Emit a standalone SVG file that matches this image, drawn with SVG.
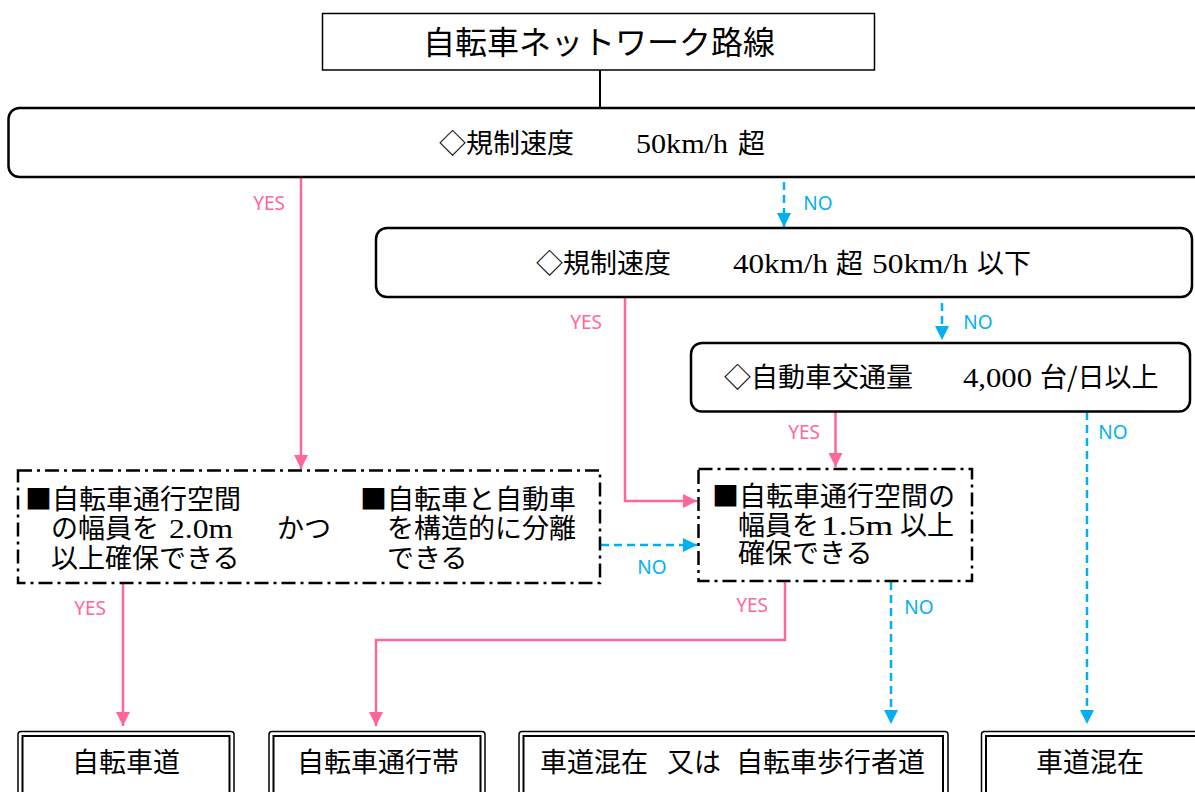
<svg xmlns="http://www.w3.org/2000/svg" width="1195" height="792" viewBox="0 0 1195 792">
<style>
.jp{font-family:"Noto Sans CJK JP","Noto Sans",sans-serif;fill:#000}
.sf{font-family:"Liberation Serif",serif;fill:#000}
.t27{font-size:27px}
.lbl{font-family:"Noto Sans","Liberation Sans",sans-serif;font-size:19px;text-anchor:middle}
.yes{fill:#FF6699}
.no{fill:#00B0F0}
.rbox{fill:#fff;stroke:#000;stroke-width:2.5}
.ddbox{fill:#fff;stroke:#000;stroke-width:2.5;stroke-dasharray:14 5 3 5}
.outer{fill:#fff;stroke:#000;stroke-width:1.5}
.inner{fill:none;stroke:#000;stroke-width:2}
.py{fill:none;stroke:#FF6699;stroke-width:2.5}
.pn{fill:none;stroke:#00B0F0;stroke-width:2.5;stroke-dasharray:8 5}
</style>
<defs>
<marker id="ap" markerUnits="userSpaceOnUse" markerWidth="14" markerHeight="14" viewBox="0 0 14 14" refX="14" refY="7" orient="auto">
<path d="M0,0 L14,7 L0,14 Z" fill="#FF6699"/>
</marker>
<marker id="ab" markerUnits="userSpaceOnUse" markerWidth="14" markerHeight="14" viewBox="0 0 14 14" refX="14" refY="7" orient="auto">
<path d="M0,0 L14,7 L0,14 Z" fill="#00B0F0"/>
</marker>
</defs>
<rect width="1195" height="792" fill="#fff"/>

<g id="connectors">
<line x1="600" y1="70" x2="600" y2="108" stroke="#000" stroke-width="2"/>
<path class="py" d="M301,177 V469" marker-end="url(#ap)"/>
<path class="pn" d="M784,182 V227" marker-end="url(#ab)"/>
<path class="py" d="M625,297 V501 H697" marker-end="url(#ap)"/>
<path class="pn" d="M942,303 V340" marker-end="url(#ab)"/>
<path class="py" d="M835.5,411 V467" marker-end="url(#ap)"/>
<path class="pn" d="M1087,412 V724" marker-end="url(#ab)"/>
<path class="pn" d="M601,545 H697" marker-end="url(#ab)"/>
<path class="py" d="M123,584 V726" marker-end="url(#ap)"/>
<path class="py" d="M785,582 V640 H376 V726" marker-end="url(#ap)"/>
<path class="pn" d="M891,582 V724" marker-end="url(#ab)"/>
<text class="lbl yes" x="269" y="210">YES</text>
<text class="lbl no" x="818" y="210">NO</text>
<text class="lbl yes" x="586" y="329">YES</text>
<text class="lbl no" x="978" y="329">NO</text>
<text class="lbl yes" x="804" y="439">YES</text>
<text class="lbl no" x="1113" y="439">NO</text>
<text class="lbl no" x="652" y="574">NO</text>
<text class="lbl yes" x="90" y="615">YES</text>
<text class="lbl yes" x="752" y="612">YES</text>
<text class="lbl no" x="919" y="614">NO</text>
</g>

<g id="title">
<rect x="322.5" y="13.5" width="552" height="56.5" fill="#fff" stroke="#000" stroke-width="1.5"/>
<text class="jp" x="599" y="54" font-size="32" text-anchor="middle">自転車ネットワーク路線</text>
</g>

<g id="q1">
<rect class="rbox" x="8.5" y="108" width="1200" height="69" rx="11"/>
<text class="jp t27" x="439" y="153">◇規制速度</text>
<text class="sf" x="636" y="153" font-size="28" textLength="92" lengthAdjust="spacingAndGlyphs">50km/h</text>
<text class="jp t27" x="738" y="153">超</text>
</g>

<g id="q2">
<rect class="rbox" x="376" y="228" width="816" height="69" rx="11"/>
<text class="jp t27" x="536" y="273">◇規制速度</text>
<text class="sf" x="733" y="273" font-size="28" textLength="95" lengthAdjust="spacingAndGlyphs">40km/h</text>
<text class="jp t27" x="836" y="273">超</text>
<text class="sf" x="872" y="273" font-size="28" textLength="96" lengthAdjust="spacingAndGlyphs">50km/h</text>
<text class="jp t27" x="977" y="273">以下</text>
</g>

<g id="q3">
<rect class="rbox" x="691" y="343" width="499" height="68.5" rx="11"/>
<text class="jp t27" x="724" y="387">◇自動車交通量</text>
<text class="sf" x="963" y="387" font-size="28" textLength="69" lengthAdjust="spacingAndGlyphs">4,000</text>
<text class="jp t27" x="1040" y="387">台/日以上</text>
</g>

<g id="c1">
<rect class="ddbox" x="18" y="470.5" width="582" height="112.5"/>
<text class="jp t27" x="25" y="509">■自転車通行空間</text>
<text class="jp t27" x="51" y="538">の幅員を</text>
<text class="sf" x="169" y="538" font-size="28" textLength="64" lengthAdjust="spacingAndGlyphs">2.0m</text>
<text class="jp t27" x="51" y="568">以上確保できる</text>
<text class="jp t27" x="277" y="538">かつ</text>
<text class="jp t27" x="360" y="509">■自転車と自動車</text>
<text class="jp t27" x="387" y="538">を構造的に分離</text>
<text class="jp t27" x="387" y="568">できる</text>
</g>

<g id="c2">
<rect class="ddbox" x="698.5" y="469" width="273.5" height="112"/>
<text class="jp t27" x="712" y="506">■自転車通行空間の</text>
<text class="jp t27" x="738" y="535">幅員を</text>
<text class="sf" x="821" y="535" font-size="28" textLength="72" lengthAdjust="spacingAndGlyphs">1.5m</text>
<text class="jp t27" x="900" y="535">以上</text>
<text class="jp t27" x="738" y="563">確保できる</text>
</g>

<g id="r1">
<rect class="outer" x="18" y="731.5" width="216" height="80" rx="3"/>
<rect class="inner" x="22.5" y="736" width="207" height="70"/>
<text class="jp t27" x="126" y="772" text-anchor="middle">自転車道</text>
</g>

<g id="r2">
<rect class="outer" x="269" y="731.5" width="216" height="80" rx="3"/>
<rect class="inner" x="273.5" y="736" width="207" height="70"/>
<text class="jp t27" x="378" y="772" text-anchor="middle">自転車通行帯</text>
</g>

<g id="r3">
<rect class="outer" x="519" y="731.5" width="429" height="80" rx="3"/>
<rect class="inner" x="523.5" y="736" width="419.5" height="70"/>
<text class="jp t27" x="540" y="772">車道混在</text>
<text class="jp t27" x="667" y="772">又は</text>
<text class="jp t27" x="736" y="772">自転車歩行者道</text>
</g>

<g id="r4">
<rect class="outer" x="981.5" y="731.5" width="240" height="80" rx="3"/>
<rect class="inner" x="986" y="736" width="230" height="70"/>
<text class="jp t27" x="1090" y="772" text-anchor="middle">車道混在</text>
</g>
</svg>
